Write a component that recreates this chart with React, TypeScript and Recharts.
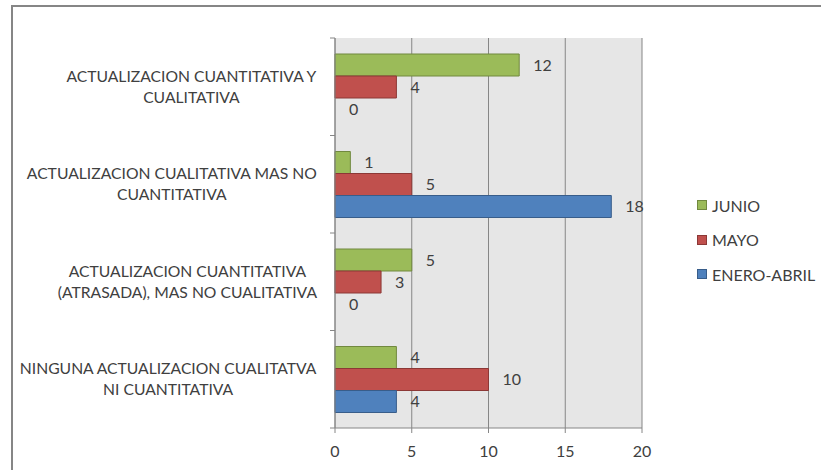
import React from 'react';
import {
  BarChart,
  Bar,
  XAxis,
  YAxis,
  CartesianGrid,
  Legend,
  LabelList,
  Rectangle,
} from 'recharts';

const categories = [
  'ACTUALIZACION CUANTITATIVA Y CUALITATIVA',
  'ACTUALIZACION CUALITATIVA MAS NO CUANTITATIVA',
  'ACTUALIZACION CUANTITATIVA (ATRASADA), MAS NO CUALITATIVA',
  'NINGUNA ACTUALIZACION CUALITATVA NI CUANTITATIVA',
];

const categoryLines = [
  ['ACTUALIZACION CUANTITATIVA Y', 'CUALITATIVA'],
  ['ACTUALIZACION CUALITATIVA MAS NO', 'CUANTITATIVA'],
  ['ACTUALIZACION CUANTITATIVA', '(ATRASADA), MAS NO CUALITATIVA'],
  ['NINGUNA ACTUALIZACION CUALITATVA', 'NI CUANTITATIVA'],
];

const junio = [12, 1, 5, 4];
const mayo = [4, 5, 3, 10];
const eneroAbril = [0, 18, 0, 4];

const xTicks = [0, 5, 10, 15, 20];

const data = categories.map((name, i) => ({
  name,
  junio: junio[i],
  mayo: mayo[i],
  eneroAbril: eneroAbril[i],
}));

const series = [
  { key: 'junio', name: 'JUNIO', fill: '#9BBB59', stroke: '#71893F' },
  { key: 'mayo', name: 'MAYO', fill: '#C0504D', stroke: '#8C3836' },
  { key: 'eneroAbril', name: 'ENERO-ABRIL', fill: '#4F81BD', stroke: '#385D8A' },
];

const FONT = 'Lato, "Open Sans", sans-serif';
const FS = 16;
const CAT_FS = 15.7;
const TEXT = '#404040';
const AXIS = '#868686';

const W = 821;
const H = 470;
const TOP = 38;
const PLOT_LEFT = 335;
const PLOT_BOTTOM = 428;
const BAND = (PLOT_BOTTOM - TOP) / categories.length;

let ctx: CanvasRenderingContext2D | null = null;
function textWidth(s: string, font: string) {
  if (!ctx) ctx = document.createElement('canvas').getContext('2d');
  if (!ctx) return s.length * 9;
  ctx.font = font;
  return ctx.measureText(s).width;
}

function CategoryTick(props: any) {
  const { y, index } = props;
  const lines = categoryLines[index] || [];
  const maxW = Math.max(...lines.map((l) => textWidth(l, `${CAT_FS}px ${FONT}`)));
  const cx = 317 - maxW / 2;
  const lh = 21;
  const startY = y - ((lines.length - 1) * lh) / 2;
  const isLast = index === categories.length - 1;
  return (
    <g>
      <line x1={PLOT_LEFT - 5} x2={PLOT_LEFT} y1={y - BAND / 2} y2={y - BAND / 2} stroke={AXIS} />
      {isLast && (
        <line x1={PLOT_LEFT - 5} x2={PLOT_LEFT} y1={y + BAND / 2} y2={y + BAND / 2} stroke={AXIS} />
      )}
      <text textAnchor="middle" fontFamily={FONT} fontSize={CAT_FS} fill={TEXT}>
        {lines.map((l, i) => (
          <tspan key={i} x={cx} y={startY + i * lh} dy="0.36em">
            {l}
          </tspan>
        ))}
      </text>
    </g>
  );
}

function LegendContent() {
  return (
    <div style={{ fontFamily: FONT, fontSize: FS, color: TEXT }}>
      {series.map((s) => (
        <div key={s.key} style={{ display: 'flex', alignItems: 'center', height: 34.5 }}>
          <span
            style={{
              display: 'inline-block',
              width: 8,
              height: 8,
              background: s.fill,
              border: `1px solid ${s.stroke}`,
              marginRight: 5,
            }}
          />
          <span>{s.name}</span>
        </div>
      ))}
    </div>
  );
}

const labelValue = (entry: any) => {
  const v = Array.isArray(entry.value) ? entry.value[entry.value.length - 1] : entry.value;
  return String(v);
};

// zero-valued bars get a hair of width so their "0" label is still drawn
const zeroMin = (value: any) => (value === 0 ? 0.01 : 0);

const BarShape = (props: any) =>
  props.width < 1 ? <g /> : <Rectangle {...props} />;

export default function App() {
  return (
    <div
      style={{
        position: 'absolute',
        left: 0,
        top: 0,
        width: W,
        height: H,
        background: '#fff',
        overflow: 'hidden',
      }}
    >
      <div
        style={{
          position: 'absolute',
          left: 11,
          top: 5,
          width: 900,
          height: 600,
          border: `2px solid ${AXIS}`,
        }}
      />
      <BarChart
        width={W}
        height={H}
        data={data}
        layout="vertical"
        margin={{ top: TOP, right: W - 642, bottom: 0, left: 0 }}
        barCategoryGap={16}
        barGap={0}
      >
        <CartesianGrid horizontal={false} stroke={AXIS} fill="#E6E6E6" />
        <XAxis
          type="number"
          domain={[0, 20]}
          ticks={xTicks}
          height={H - PLOT_BOTTOM}
          tickSize={5}
          tickMargin={13}
          stroke={AXIS}
          tick={{ fill: TEXT, fontSize: FS, fontFamily: FONT }}
        />
        <YAxis
          type="category"
          dataKey="name"
          width={PLOT_LEFT}
          stroke={AXIS}
          tickLine={false}
          tick={<CategoryTick />}
          interval={0}
        />
        <Legend
          layout="vertical"
          align="center"
          verticalAlign="middle"
          wrapperStyle={{ left: 697, top: 188, width: 124 }}
          content={<LegendContent />}
        />
        {series.map((s) => (
          <Bar
            key={s.key}
            dataKey={s.key}
            name={s.name}
            fill={s.fill}
            stroke={s.stroke}
            strokeWidth={1}
            minPointSize={zeroMin}
            shape={BarShape}
            isAnimationActive={false}
          >
            <LabelList
              valueAccessor={labelValue}
              position="right"
              offset={14}
              fill={TEXT}
              fontSize={FS}
              fontFamily={FONT}
            />
          </Bar>
        ))}
      </BarChart>
    </div>
  );
}
